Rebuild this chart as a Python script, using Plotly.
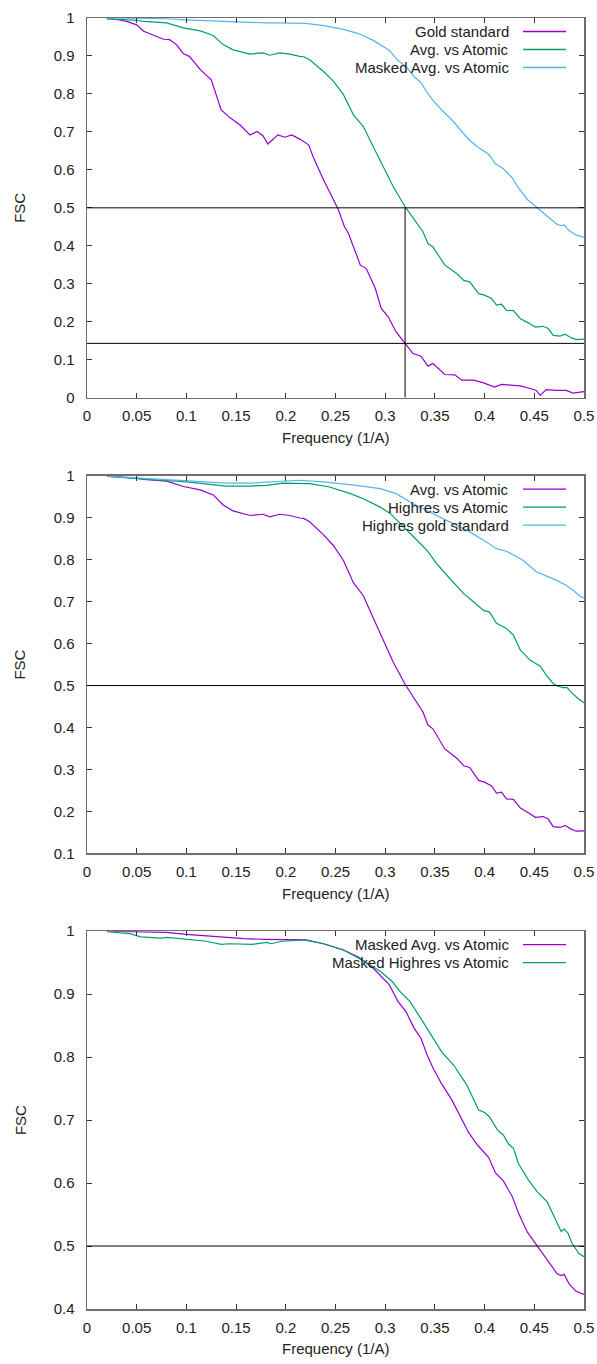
import plotly.graph_objects as go

# ---------------- data ----------------
gold_f = [0.02, 0.03, 0.04, 0.05, 0.057, 0.07, 0.077, 0.083, 0.09, 0.097, 0.103, 0.114, 0.125, 0.135,
          0.144, 0.154, 0.164, 0.171, 0.177, 0.182, 0.192, 0.199, 0.206, 0.214, 0.218, 0.223, 0.228,
          0.238, 0.248, 0.253, 0.259, 0.263, 0.275, 0.281, 0.29, 0.296, 0.303, 0.311, 0.32, 0.328,
          0.336, 0.343, 0.348, 0.36, 0.37, 0.377, 0.389, 0.399, 0.41, 0.417, 0.426, 0.436, 0.446,
          0.452, 0.456, 0.462, 0.472, 0.482, 0.489, 0.497, 0.5]
gold_v = [0.998, 0.996, 0.991, 0.982, 0.965, 0.951, 0.944, 0.943, 0.930, 0.906, 0.899, 0.864, 0.837, 0.758,
          0.737, 0.718, 0.692, 0.701, 0.690, 0.668, 0.692, 0.686, 0.692, 0.681, 0.675, 0.666, 0.631,
          0.573, 0.521, 0.494, 0.450, 0.433, 0.349, 0.340, 0.288, 0.235, 0.213, 0.173, 0.143, 0.116,
          0.109, 0.083, 0.090, 0.061, 0.060, 0.046, 0.046, 0.039, 0.028, 0.035, 0.033, 0.031, 0.024,
          0.019, 0.006, 0.021, 0.019, 0.019, 0.012, 0.015, 0.016]

avg_f = [0.02, 0.05, 0.057, 0.08, 0.097, 0.114, 0.127, 0.137, 0.147, 0.164, 0.177, 0.184, 0.194, 0.204,
         0.214, 0.218, 0.224, 0.238, 0.248, 0.258, 0.268, 0.278, 0.288, 0.298, 0.308, 0.32, 0.332,
         0.338, 0.343, 0.348, 0.36, 0.372, 0.379, 0.385, 0.394, 0.40, 0.407, 0.412, 0.417, 0.422,
         0.429, 0.436, 0.444, 0.451, 0.459, 0.464, 0.469, 0.476, 0.481, 0.487, 0.492, 0.497, 0.5]
avg_v = [0.998, 0.994, 0.991, 0.987, 0.974, 0.966, 0.954, 0.930, 0.916, 0.905, 0.908, 0.902, 0.908, 0.905,
         0.899, 0.898, 0.890, 0.859, 0.833, 0.798, 0.745, 0.714, 0.661, 0.608, 0.556, 0.503, 0.459,
         0.437, 0.406, 0.397, 0.349, 0.327, 0.309, 0.305, 0.274, 0.270, 0.261, 0.244, 0.246, 0.230,
         0.229, 0.208, 0.197, 0.186, 0.188, 0.182, 0.164, 0.162, 0.167, 0.158, 0.153, 0.153, 0.154]

masked_avg_f = [0.02, 0.05, 0.08, 0.10, 0.135, 0.158, 0.18, 0.19, 0.21, 0.22, 0.238, 0.258, 0.273, 0.288,
                0.304, 0.313, 0.321, 0.329, 0.336, 0.342, 0.348, 0.357, 0.367, 0.377, 0.384, 0.393,
                0.404, 0.411, 0.419, 0.428, 0.434, 0.443, 0.452, 0.463, 0.473, 0.477, 0.48, 0.485,
                0.492, 0.5]
masked_avg_v = [1.0, 0.999, 0.998, 0.995, 0.991, 0.988, 0.987, 0.987, 0.987, 0.986, 0.980, 0.970, 0.959, 0.941,
                0.915, 0.888, 0.872, 0.846, 0.830, 0.804, 0.783, 0.757, 0.732, 0.701, 0.680, 0.660,
                0.641, 0.616, 0.603, 0.578, 0.553, 0.522, 0.502, 0.478, 0.456, 0.453, 0.455, 0.440,
                0.428, 0.423]

highres_f = [0.02, 0.05, 0.10, 0.14, 0.164, 0.181, 0.197, 0.214, 0.224, 0.244, 0.265, 0.278, 0.295, 0.305,
             0.318, 0.332, 0.342, 0.352, 0.365, 0.379, 0.389, 0.399, 0.405, 0.412, 0.422, 0.429, 0.436,
             0.446, 0.456, 0.462, 0.469, 0.473, 0.479, 0.483, 0.488, 0.494, 0.5]
highres_v = [0.999, 0.993, 0.985, 0.975, 0.975, 0.977, 0.982, 0.982, 0.981, 0.973, 0.957, 0.945, 0.925, 0.910,
             0.878, 0.846, 0.822, 0.790, 0.755, 0.719, 0.699, 0.679, 0.675, 0.648, 0.636, 0.620, 0.584,
             0.560, 0.546, 0.525, 0.505, 0.499, 0.495, 0.495, 0.482, 0.469, 0.459]

highres_gold_f = [0.02, 0.05, 0.10, 0.14, 0.164, 0.197, 0.214, 0.238, 0.271, 0.295, 0.311, 0.328, 0.348,
                  0.368, 0.385, 0.399, 0.412, 0.422, 0.439, 0.452, 0.472, 0.482, 0.489, 0.497, 0.5]
highres_gold_v = [0.999, 0.995, 0.989, 0.982, 0.982, 0.987, 0.989, 0.985, 0.977, 0.969, 0.957, 0.933, 0.910,
                  0.886, 0.866, 0.846, 0.826, 0.820, 0.798, 0.771, 0.751, 0.739, 0.727, 0.711, 0.709]

masked_highres_f = [0.02, 0.043, 0.054, 0.074, 0.081, 0.104, 0.12, 0.135, 0.143, 0.166, 0.181, 0.185, 0.196,
                    0.219, 0.238, 0.258, 0.277, 0.296, 0.307, 0.315, 0.325, 0.338, 0.348, 0.357, 0.369,
                    0.382, 0.394, 0.400, 0.405, 0.413, 0.419, 0.424, 0.429, 0.434, 0.444, 0.453, 0.463,
                    0.470, 0.474, 0.477, 0.480, 0.484, 0.488, 0.492, 0.495, 0.5]
masked_highres_v = [0.999, 0.996, 0.991, 0.989, 0.990, 0.987, 0.984, 0.979, 0.980, 0.979, 0.982, 0.980, 0.984,
                    0.986, 0.980, 0.970, 0.954, 0.935, 0.920, 0.904, 0.888, 0.856, 0.830, 0.808, 0.787,
                    0.756, 0.716, 0.712, 0.705, 0.684, 0.676, 0.662, 0.655, 0.631, 0.605, 0.586, 0.570,
                    0.546, 0.531, 0.523, 0.527, 0.520, 0.504, 0.494, 0.488, 0.483]

fsc_half = 0.5
fsc_gold = 0.143
res_freq = 0.32

x_tickvals = [0, 0.05, 0.1, 0.15, 0.2, 0.25, 0.3, 0.35, 0.4, 0.45, 0.5]
x_ticktext = ["0", "0.05", "0.1", "0.15", "0.2", "0.25", "0.3", "0.35", "0.4", "0.45", "0.5"]
y1_tickvals = [0, 0.1, 0.2, 0.3, 0.4, 0.5, 0.6, 0.7, 0.8, 0.9, 1]
y1_ticktext = ["0", "0.1", "0.2", "0.3", "0.4", "0.5", "0.6", "0.7", "0.8", "0.9", "1"]
y2_tickvals = [0.1, 0.2, 0.3, 0.4, 0.5, 0.6, 0.7, 0.8, 0.9, 1]
y2_ticktext = ["0.1", "0.2", "0.3", "0.4", "0.5", "0.6", "0.7", "0.8", "0.9", "1"]
y3_tickvals = [0.4, 0.5, 0.6, 0.7, 0.8, 0.9, 1]
y3_ticktext = ["0.4", "0.5", "0.6", "0.7", "0.8", "0.9", "1"]

# ---------------- styling ----------------
PURPLE = "#9400D3"
GREEN = "#009E73"
BLUE = "#56B4E9"
FONT = "Liberation Sans, Arial, sans-serif"
FS = 15
W, H = 597, 1364
ML = 87
MR = 597 - 584
MT = 17.5
MB = 1364 - 1309
PH = H - MT - MB
PW = W - ML - MR


def dom(top_px, bot_px):
    return [1 - (bot_px - MT) / PH, 1 - (top_px - MT) / PH]


panels = [
    dict(dom=dom(17.5, 397.3), yr=[0, 1], yt=(y1_tickvals, y1_ticktext),
         series=[("Gold standard", gold_f, gold_v, PURPLE),
                 ("Avg. vs Atomic", avg_f, avg_v, GREEN),
                 ("Masked Avg. vs Atomic", masked_avg_f, masked_avg_v, BLUE)]),
    dict(dom=dom(475.3, 853.3), yr=[0.1, 1], yt=(y2_tickvals, y2_ticktext),
         series=[("Avg. vs Atomic", avg_f, avg_v, PURPLE),
                 ("Highres vs Atomic", highres_f, highres_v, GREEN),
                 ("Highres gold standard", highres_gold_f, highres_gold_v, BLUE)]),
    dict(dom=dom(931, 1309), yr=[0.4, 1], yt=(y3_tickvals, y3_ticktext),
         series=[("Masked Avg. vs Atomic", masked_avg_f, masked_avg_v, PURPLE),
                 ("Masked Highres vs Atomic", masked_highres_f, masked_highres_v, GREEN)]),
]

fig = go.Figure()
shapes = []
annotations = []
layout = dict(
    width=W, height=H,
    margin=dict(l=ML, r=MR, t=MT, b=MB, pad=0, autoexpand=False),
    paper_bgcolor="white", plot_bgcolor="white",
    showlegend=False,
    hovermode=False,
    font=dict(family=FONT, size=FS, color="#222222"),
)

for i, p in enumerate(panels, start=1):
    xa = "x" if i == 1 else f"x{i}"
    ya = "y" if i == 1 else f"y{i}"
    xkey = "xaxis" if i == 1 else f"xaxis{i}"
    ykey = "yaxis" if i == 1 else f"yaxis{i}"
    axis_common = dict(showline=True, linecolor="#6e6e6e", linewidth=1.5, mirror="allticks",
                       ticks="inside", ticklen=5, tickwidth=1, tickcolor="#333333",
                       showgrid=False, zeroline=False, automargin=False,
                       tickfont=dict(family=FONT, size=FS, color="#222222"))
    layout[xkey] = dict(axis_common, domain=[0, 1], anchor=ya, range=[0, 0.5],
                        tickvals=x_tickvals, ticktext=x_ticktext, ticklabelstandoff=4)
    layout[ykey] = dict(axis_common, domain=p["dom"], anchor=xa, range=p["yr"],
                        tickvals=p["yt"][0], ticktext=p["yt"][1], ticklabelstandoff=8)

    for name, f, v, c in p["series"]:
        fig.add_trace(go.Scatter(x=f, y=v, mode="lines", name=name, xaxis=xa, yaxis=ya,
                                 line=dict(color=c, width=1.2)))

    # reference line(s)
    shapes.append(dict(type="line", xref=xa, yref=ya, x0=0, x1=0.5, y0=fsc_half, y1=fsc_half,
                       line=dict(color="black", width=1)))
    if i == 1:
        shapes.append(dict(type="line", xref=xa, yref=ya, x0=0, x1=0.5, y0=fsc_gold, y1=fsc_gold,
                           line=dict(color="black", width=1)))
        shapes.append(dict(type="line", xref=xa, yref=ya, x0=res_freq, x1=res_freq, y0=p["yr"][0],
                           y1=fsc_half, line=dict(color="black", width=1)))

    # gnuplot-style key (text right-aligned, sample line to the right)
    ph = (p["dom"][1] - p["dom"][0]) * PH
    for k, (name, f, v, c) in enumerate(p["series"]):
        yk = 1 - (13.5 + 18 * k) / ph
        annotations.append(dict(xref=f"{xa} domain", yref=f"{ya} domain", x=(511 - ML) / PW, y=yk,
                                text=name, showarrow=False, xanchor="right", yanchor="middle",
                                font=dict(family=FONT, size=FS, color="#222222")))
        shapes.append(dict(type="line", xref=f"{xa} domain", yref=f"{ya} domain",
                           x0=(523 - ML) / PW, x1=(566 - ML) / PW, y0=yk, y1=yk,
                           layer="above", line=dict(color=c, width=1.3)))

    # axis titles
    annotations.append(dict(xref=f"{xa} domain", yref=f"{ya} domain", x=-67 / PW, y=0.5,
                            text="FSC", textangle=-90, showarrow=False,
                            xanchor="center", yanchor="middle",
                            font=dict(family=FONT, size=FS, color="#222222")))
    annotations.append(dict(xref=f"{xa} domain", yref=f"{ya} domain", x=0.5, y=-40 / ph,
                            text="Frequency (1/A)", showarrow=False,
                            xanchor="center", yanchor="middle",
                            font=dict(family=FONT, size=FS, color="#222222")))

layout["shapes"] = shapes
layout["annotations"] = annotations
fig.update_layout(**layout)
fig.write_html(
    "out.html",
    config={"displayModeBar": False, "staticPlot": True},
    post_script="document.body.style.margin='0';document.body.style.overflow='hidden';",
)
